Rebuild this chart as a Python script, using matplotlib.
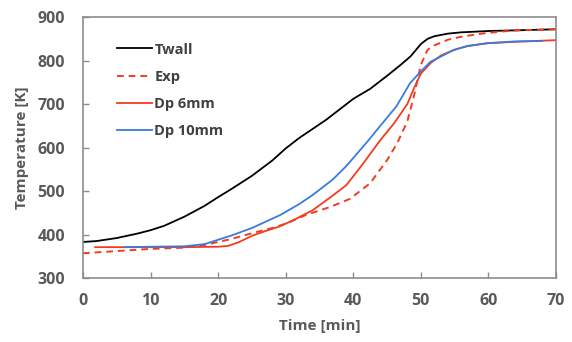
import matplotlib
matplotlib.use("Agg")
import matplotlib.pyplot as plt

# Data
twall_t = [0, 2, 5, 8, 10, 12, 15, 18, 20, 22, 25, 28, 30, 32, 34, 36, 39, 40, 42.5, 45, 47, 48.5, 50, 51, 52, 54, 56, 60, 65, 70]
twall_T = [383, 385, 392, 402, 410, 420, 441, 466, 486, 505, 535, 570, 598, 622, 643, 664, 700, 712, 735, 765, 790, 810, 838, 850, 856, 862, 865, 868, 870, 872]

exp_t = [0, 5, 10, 15, 18, 20, 22, 25, 28, 30, 33, 36.5, 39.5, 42.5, 45, 46.5, 48, 49, 49.5, 50, 51, 52, 54, 56, 59, 62, 65, 70]
exp_T = [357, 362, 367, 370, 376, 383, 390, 403, 415, 425, 445, 463, 482, 518, 571, 610, 660, 720, 755, 790, 825, 835, 848, 855, 862, 867, 870, 872]

dp6_t = [1.8, 5, 10, 15, 20, 21.5, 23, 25, 27, 29, 31, 34, 37, 39, 41.5, 44, 46, 48, 49, 50, 51.5, 53, 55, 57, 60, 65, 70]
dp6_T = [371, 371, 371, 371, 372, 374, 382, 397, 408, 418, 432, 456, 490, 514, 564, 617, 655, 700, 737, 770, 795, 812, 825, 834, 840, 844, 847]

dp10_t = [6.2, 10, 15, 18, 20, 22, 25, 29.2, 32, 34, 37, 39, 40.5, 42, 44, 46.4, 48.4, 50, 51.4, 52.8, 54.8, 56.8, 59.8, 63.8, 67.9]
dp10_T = [371, 372, 373, 378, 388, 398, 415, 445, 470, 491, 527, 558, 585, 612, 650, 695, 748, 775, 797, 808, 824, 833, 840, 844, 845]

xticks = [0, 10, 20, 30, 40, 50, 60, 70]
yticks = [300, 400, 500, 600, 700, 800, 900]

plt.rcParams['font.family'] = ['Open Sans', 'DejaVu Sans']
txt = '#595959'
red = '#F23C1E'
blue = '#3A7BDD'

fig = plt.figure(figsize=(5.72, 3.42), dpi=100)
ax = fig.add_axes([0.145, 0.187, 0.827, 0.763])

ax.plot(twall_t, twall_T, color='black', lw=1.3, label='Twall')
ax.plot(exp_t, exp_T, color=red, lw=1.4, ls=(0, (3.5, 2.5)), label='Exp')
ax.plot(dp6_t, dp6_T, color=red, lw=1.3, label='Dp 6mm')
ax.plot(dp10_t, dp10_T, color=blue, lw=1.3, label='Dp 10mm')

ax.set_xlim(0, 70)
ax.set_ylim(300, 900)
ax.set_xticks(xticks)
ax.set_yticks(yticks)
ax.tick_params(direction='in', length=4, width=1, color='#8c8c8c',
               labelsize=11.5, labelcolor=txt)
ax.tick_params(axis='x', pad=11)
ax.tick_params(axis='y', pad=13)
for lab in ax.get_xticklabels() + ax.get_yticklabels():
    lab.set_fontweight('bold')
for s in ax.spines.values():
    s.set_color('#8c8c8c')
    s.set_linewidth(1.2)

ax.set_xlabel('Time [min]', fontsize=11, fontweight='bold', color=txt, labelpad=7)
ax.set_ylabel('Temperature [K]', fontsize=11, fontweight='bold', color=txt, labelpad=6)

leg = ax.legend(loc='upper left', bbox_to_anchor=(0.06, 0.925), frameon=False,
                fontsize=10.5, handlelength=2.4, handletextpad=0.15,
                labelspacing=0.9, borderaxespad=0)
for t in leg.get_texts():
    t.set_color('#404040')
    t.set_fontweight('bold')

fig.savefig('out.png', dpi=100)
